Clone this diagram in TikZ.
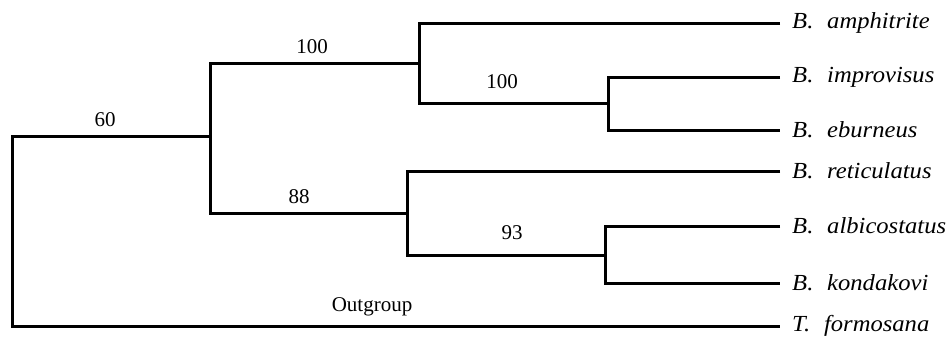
\documentclass[tikz,border=0pt]{standalone}
\usepackage{fontspec}
\setmainfont{Liberation Serif}
\newfontfamily\taxonfont[FakeStretch=1.07]{Liberation Serif}

\begin{document}
\begin{tikzpicture}[x=1pt, y=-1pt,
    branch/.style={line width=3pt, line join=miter},
    taxon/.style={anchor=west, inner xsep=12pt, inner ysep=0pt,
        font=\taxonfont\fontsize{23}{23}\selectfont\itshape},
    support/.style={inner sep=0pt, font=\fontsize{21}{21}\selectfont}]
    \useasboundingbox (0,0) rectangle (949,340);

    \coordinate (root) at (12, 231);
    \coordinate (A) at (210, 136);
    \coordinate (B) at (419, 63);
    \coordinate (C) at (608, 103);
    \coordinate (D) at (407, 213);
    \coordinate (E) at (605, 255);

    \node[taxon] (amph) at (780, 23) {B.\,\, amphitrite};
    \node[taxon] (impr) at (780, 77) {B.\,\, improvisus};
    \node[taxon] (ebur) at (780, 130) {B.\,\, eburneus};
    \node[taxon] (reti) at (780, 171) {B.\,\, reticulatus};
    \node[taxon] (albi) at (780, 226) {B.\,\, albicostatus};
    \node[taxon] (kond) at (780, 283) {B.\,\, kondakovi};
    \node[taxon] (tfor) at (780, 326) {T.\,\, formosana};

    \node[support] (s60) at (105, 120) {60};
    \node[support] (s100a) at (312, 47) {100};
    \node[support] (s100b) at (502, 82) {100};
    \node[support] (s88) at (299, 197) {88};
    \node[support] (s93) at (512, 233) {93};
    \node[support] (out) at (372, 307) {Outgroup};

    \draw[branch] (A) -| (root) |- (tfor.west);
    \draw[branch] (B) -| (A) |- (D);
    \draw[branch] (amph.west) -| (B) |- (C);
    \draw[branch] (impr.west) -| (C) |- (ebur.west);
    \draw[branch] (reti.west) -| (D) |- (E);
    \draw[branch] (albi.west) -| (E) |- (kond.west);
\end{tikzpicture}
\end{document}
